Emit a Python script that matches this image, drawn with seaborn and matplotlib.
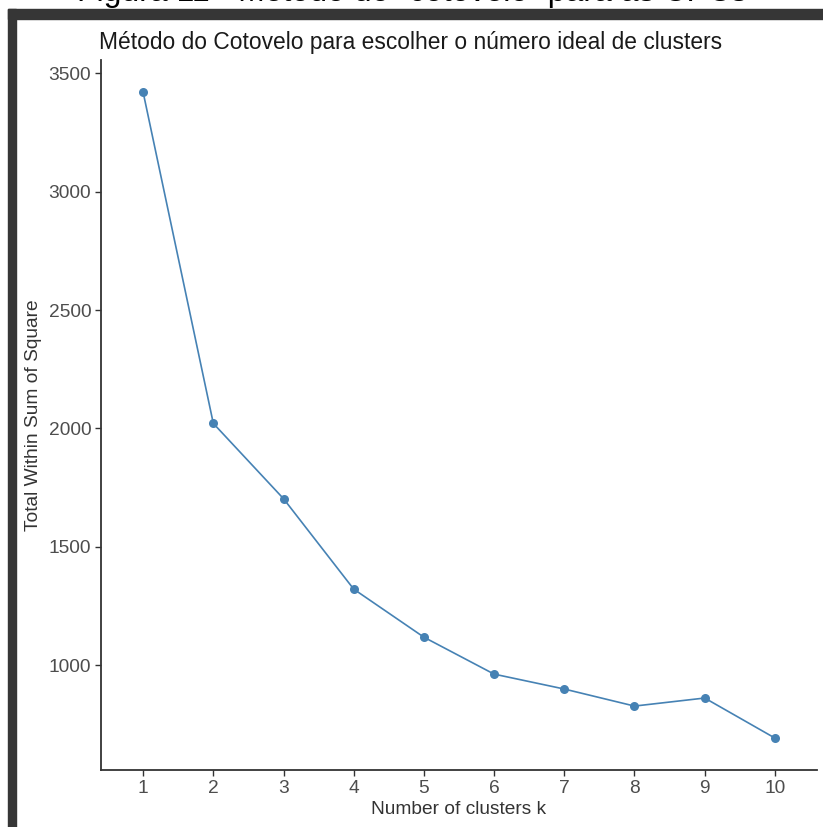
import numpy as np
import pandas as pd
import matplotlib
matplotlib.use("Agg")
import matplotlib.pyplot as plt
from matplotlib.patches import Rectangle
import seaborn as sns

# Données
k_values = [1, 2, 3, 4, 5, 6, 7, 8, 9, 10]
wss_values = [3420, 2021, 1703, 1321, 1118, 962, 899, 827, 861, 692]
y_ticks = [1000, 1500, 2000, 2500, 3000, 3500]

df = pd.DataFrame({"k": k_values, "wss": wss_values})

sns.set_style("ticks")
plt.rcParams['font.family'] = ['Liberation Sans', 'DejaVu Sans']

fig = plt.figure(figsize=(8.23, 8.27), dpi=100)
ax = fig.add_axes([101 / 823, 1 - 770 / 827, (817 - 101) / 823, (770 - 60) / 827])

sns.lineplot(data=df, x="k", y="wss", ax=ax, color="#4682B4", marker="o",
             markersize=6.5, markeredgewidth=0, linewidth=1.2)

ax.set_xlim(0.4, 10.6)
ax.set_ylim(557, 3556)
ax.set_xticks(k_values)
ax.set_yticks(y_ticks)
ax.tick_params(axis="both", length=4, width=1, color="#333333",
               labelsize=13.8, labelcolor="#4d4d4d", pad=3)
for side in ["top", "right"]:
    ax.spines[side].set_visible(False)
for side in ["left", "bottom"]:
    ax.spines[side].set_color("#333333")
    ax.spines[side].set_linewidth(1.3)

ax.set_xlabel("Number of clusters k", fontsize=13.8, color="#333333", labelpad=3)
ax.set_ylabel("Total Within Sum of Square", fontsize=13.8, color="#333333", labelpad=5)
ax.set_title("Método do Cotovelo para escolher o número ideal de clusters",
             fontsize=16.4, color="#1a1a1a", loc="left", x=-0.003, pad=8)

# Cadre sombre de la capture d'écran
fig.patches.append(Rectangle((8 / 823, 1 - 19 / 827), 1, 10 / 827,
                             transform=fig.transFigure, color="#363636", zorder=0))
fig.patches.append(Rectangle((8 / 823, 0), 8 / 823, 1 - 9 / 827,
                             transform=fig.transFigure, color="#363636", zorder=0))

# Légende de la figure coupée en haut
fig.text(0.5, 1 + 7 / 827, "Figura 11 - Método do “cotovelo” para as CPCs",
         ha="center", va="center", fontsize=23, color="black")

fig.savefig("out.png", dpi=100)
